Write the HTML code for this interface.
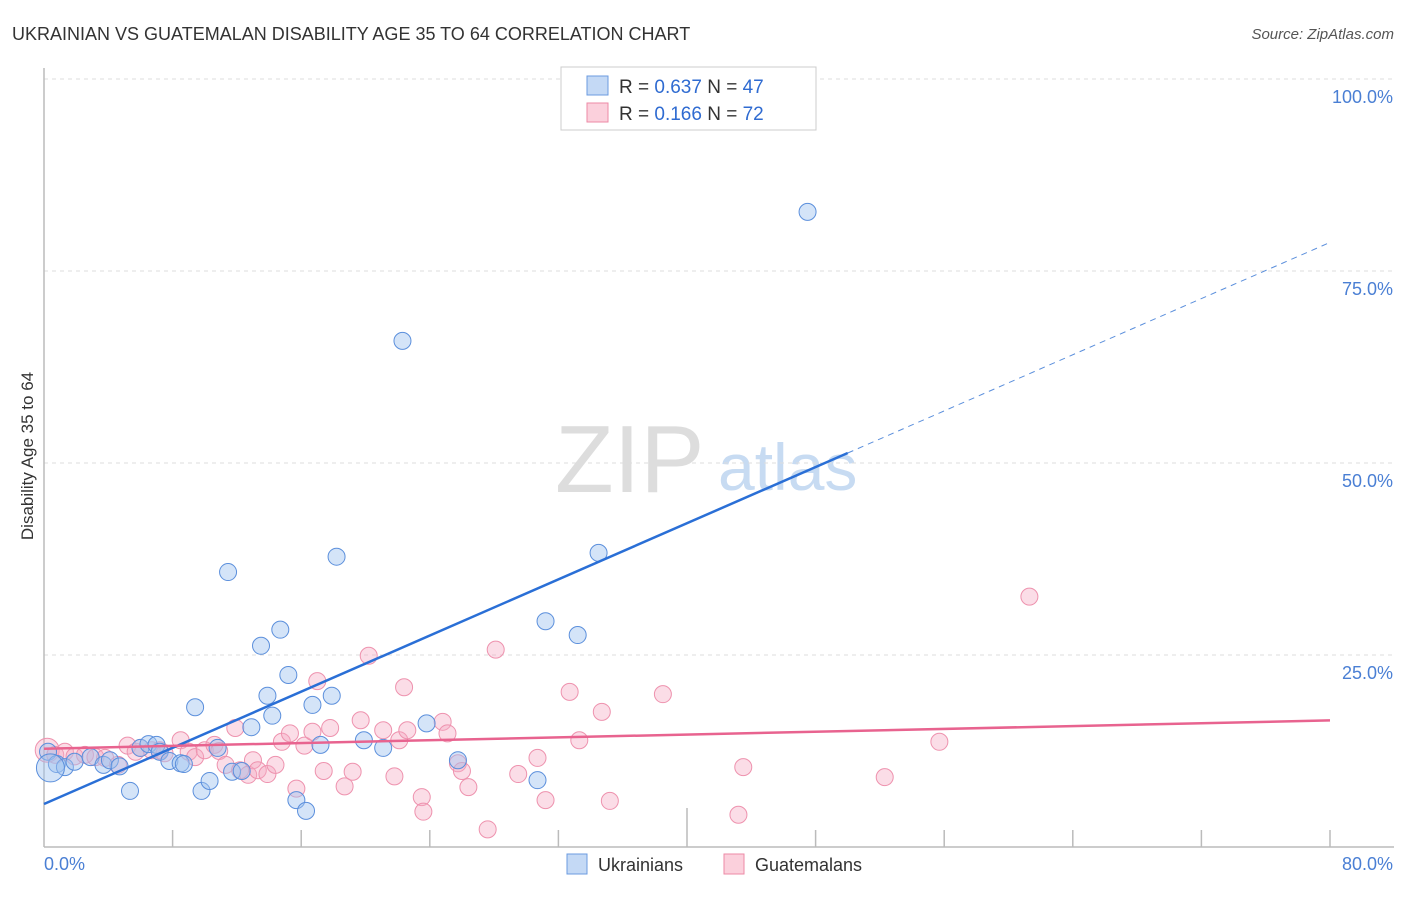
<!DOCTYPE html>
<html><head><meta charset="utf-8"><style>
body{margin:0;background:#fff;font-family:"Liberation Sans",sans-serif;}
svg text{font-family:"Liberation Sans",sans-serif;}
</style></head><body>
<svg id="chart" width="1406" height="892" xmlns="http://www.w3.org/2000/svg">
<text x="12" y="40" font-size="18" fill="#333">UKRAINIAN VS GUATEMALAN DISABILITY AGE 35 TO 64 CORRELATION CHART</text>
<text x="1394" y="39" font-size="15" fill="#555" font-style="italic" text-anchor="end">Source: ZipAtlas.com</text>
<text transform="translate(33,456) rotate(-90)" font-size="17" fill="#333" text-anchor="middle">Disability Age 35 to 64</text>
<g>
<text x="555" y="492" font-size="96" fill="#ddd" font-family="Liberation Serif,serif">ZIP</text>
<text x="718" y="490" font-size="66" fill="#c7dbf2">atlas</text>
</g>
<g id="grid"></g>
<g id="axes"></g>
<g id="marks"></g>
<g id="trends"></g>
<g>
<rect x="561" y="67" width="255" height="63" fill="#fff" stroke="#ccc"/>
<rect x="587" y="76" width="21" height="19" fill="#c4d9f5" stroke="#6b9be0"/>
<rect x="587" y="103" width="21" height="19" fill="#fbd0dc" stroke="#ec8aa6"/>
<text x="619" y="93" font-size="19" fill="#333">R = <tspan fill="#2f6bd1">0.637</tspan>   N = <tspan fill="#2f6bd1">47</tspan></text>
<text x="619" y="120" font-size="19" fill="#333">R =  <tspan fill="#2f6bd1">0.166</tspan>   N = <tspan fill="#2f6bd1">72</tspan></text>
</g>
<g>
<rect x="567" y="854" width="20" height="20" fill="#c4d9f5" stroke="#6b9be0"/>
<text x="598" y="871" font-size="18" fill="#333">Ukrainians</text>
<rect x="724" y="854" width="20" height="20" fill="#fbd0dc" stroke="#ec8aa6"/>
<text x="755" y="871" font-size="18" fill="#333">Guatemalans</text>
</g>
</svg>
<script>
const yTicks=[25,50,75,100];
const yTickLabels=["25.0%","50.0%","75.0%","100.0%"];
const xTickLabels=["0.0%","80.0%"];
const ukrX=[0.25,0.8,1.3,1.9,2.9,3.7,4.1,4.7,5.35,6.0,6.5,7.0,7.2,7.8,8.5,8.7,9.4,9.8,10.3,10.8,11.45,11.7,12.3,12.9,13.5,13.9,14.2,14.7,15.2,15.7,16.3,16.7,17.2,17.9,18.2,19.9,21.1,22.3,23.8,25.75,30.7,31.2,33.2,34.5,47.5,0.4];
const ukrY=[12.4,10.8,10.4,11.1,11.7,10.7,11.3,10.5,7.3,12.9,13.4,13.3,12.4,11.2,10.9,10.8,18.2,7.3,8.6,12.9,35.8,9.8,9.9,15.6,26.2,19.7,17.1,28.3,22.4,6.1,4.7,18.5,13.3,19.7,37.8,13.9,12.9,65.9,16.1,11.3,8.7,29.4,27.6,38.3,82.7,10.3];
const guaX=[0.2,0.7,1.3,1.9,2.55,3.2,3.8,4.6,5.2,5.7,6.0,6.7,7.2,7.5,8.5,9.0,9.4,10.0,10.6,10.9,11.3,11.9,12.2,12.7,13.0,13.3,13.9,14.4,14.8,15.3,15.7,16.2,16.7,17.0,17.4,17.8,18.7,19.2,19.7,20.2,21.1,21.8,22.1,22.4,22.6,23.5,23.6,24.8,25.1,25.75,26.0,26.4,27.6,28.1,29.5,30.7,31.2,32.7,33.3,34.7,35.2,38.5,43.2,43.5,52.3,55.7,61.3];
const guaY=[12.6,12.0,12.4,11.8,12.0,11.7,11.6,10.7,13.2,12.4,12.9,12.6,12.6,12.2,13.9,12.4,11.7,12.6,13.3,12.5,10.7,15.5,10.0,9.4,11.3,10.0,9.5,10.7,13.7,14.8,7.6,13.2,15.0,21.6,9.9,15.5,7.9,9.8,16.5,24.9,15.2,9.2,13.9,20.8,15.2,6.5,4.6,16.3,14.8,10.9,9.9,7.8,2.3,25.7,9.5,11.6,6.1,20.2,13.9,17.6,6.0,19.9,4.2,10.4,9.1,13.7,32.6];
const ukrTrend=[5.6,0.914];
const guaTrend=[12.8,0.046];
const NS="http://www.w3.org/2000/svg";
const sx=v=>44+v*16.075, sy=v=>847-v*7.68;
function mk(tag,attrs,parent){const e=document.createElementNS(NS,tag);for(const k in attrs)e.setAttribute(k,attrs[k]);document.getElementById(parent).appendChild(e);return e;}
yTicks.forEach((t,i)=>{
 const g=mk('line',{x1:44,x2:1394,y1:sy(t),y2:sy(t),stroke:'#ddd','stroke-dasharray':'4,4'},'grid');
 
 
 const l=mk('text',{x:1393,y:sy(t)+24,'font-size':18,fill:'#4a7fd4','text-anchor':'end'},'axes');
 l.textContent=yTickLabels[i];
 
 
});
const ax=mk('line',{x1:44,x2:1394,y1:847,y2:847,stroke:'#bbb','stroke-width':1.5},'axes');


const ay=mk('line',{x1:44,x2:44,y1:68,y2:847,stroke:'#bbb','stroke-width':1.5},'axes');


for(let i=1;i<=10;i++){
 const t=mk('line',{x1:sx(i*8),x2:sx(i*8),y1:i==5?808:830,y2:847,stroke:'#bbb','stroke-width':1.5},'axes');
 
 
}
const xl0=mk('text',{x:44,y:870,'font-size':18,fill:'#4a7fd4'},'axes');xl0.textContent=xTickLabels[0];


const xl1=mk('text',{x:1393,y:870,'font-size':18,fill:'#4a7fd4','text-anchor':'end'},'axes');xl1.textContent=xTickLabels[1];


guaX.forEach((x,i)=>{
 const c=mk('circle',{cx:sx(x),cy:sy(guaY[i]),r:i==0?12:8.5,fill:'rgba(246,170,195,0.4)',stroke:'#ee92ae','stroke-width':1},'marks');
 
 
});
ukrX.forEach((x,i)=>{
 const c=mk('circle',{cx:sx(x),cy:sy(ukrY[i]),r:i==ukrX.length-1?14:8.5,fill:'rgba(160,195,240,0.45)',stroke:'#5b8fdc','stroke-width':1},'marks');
 
 
});
const b1=mk('line',{x1:sx(0),y1:sy(ukrTrend[0]),x2:sx(50),y2:sy(ukrTrend[0]+50*ukrTrend[1]),stroke:'#2a6fd6','stroke-width':2.5},'trends');


const b2=mk('line',{x1:sx(50),y1:sy(ukrTrend[0]+50*ukrTrend[1]),x2:sx(80),y2:sy(ukrTrend[0]+80*ukrTrend[1]),stroke:'#5b8fdc','stroke-width':1,'stroke-dasharray':'6,5'},'trends');


const p1=mk('line',{x1:sx(0),y1:sy(guaTrend[0]),x2:sx(80),y2:sy(guaTrend[0]+80*guaTrend[1]),stroke:'#e8638f','stroke-width':2.5},'trends');


</script>
</body></html>
